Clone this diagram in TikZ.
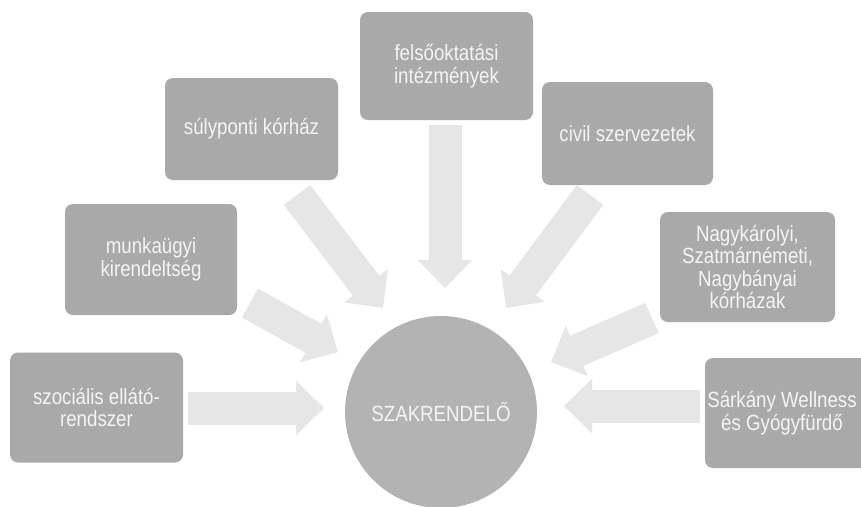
\documentclass[tikz,border=0pt]{standalone}
\usepackage{fontspec}
\setmainfont{Liberation Sans}[FakeStretch=0.85]
\usetikzlibrary{arrows.meta}
\definecolor{boxgray}{HTML}{A9A9A9}
\definecolor{circgray}{HTML}{B3B3B3}
\definecolor{arrgray}{HTML}{E6E6E6}
\definecolor{txtwhite}{HTML}{F4F4F4}
\tikzset{
  grbox/.style={fill=boxgray, rounded corners=8pt, inner sep=0pt, align=center,
    text=txtwhite, font=\fontsize{22}{22.5}\selectfont},
  hubnode/.style={circle, fill=circgray, inner sep=0pt, minimum size=192pt,
    text=txtwhite, font=\fontsize{22}{22.5}\selectfont},
  blockarrow/.style={draw=arrgray, line width=33pt,
    -{Triangle[length=28pt,width=53pt]}, color=arrgray}
}
\begin{document}
\begin{tikzpicture}[x=1pt,y=-1pt]
\useasboundingbox (0,0) rectangle (861,506);
\fill[white] (0,0) rectangle (861,506);
% boxes
\node[grbox, minimum width=173pt, minimum height=110pt] (szoc) at (96.5,407.5) {szociális ellátó-\\rendszer};
\node[grbox, minimum width=172pt, minimum height=111pt] (munk) at (151,259.5) {munkaügyi\\kirendeltség};
\node[grbox, minimum width=173pt, minimum height=102pt] (suly) at (251.5,129) {súlyponti kórház};
\node[grbox, minimum width=173pt, minimum height=108pt] (fels) at (446.5,66) {felsőoktatási\\intézmények};
\node[grbox, minimum width=171pt, minimum height=103pt] (civil) at (627.5,133.5) {civil szervezetek};
\node[grbox, minimum width=175pt, minimum height=110pt] (nagy) at (747.5,267) {Nagykárolyi,\\Szatmárnémeti,\\Nagybányai\\kórházak};
\node[grbox, minimum width=168pt, minimum height=110pt] (sark) at (789,413) {};
\node[text=txtwhite, font=\fontsize{22}{22.5}\selectfont, align=center, inner sep=0pt] (sarktxt) at (782,413) {Sárkány Wellness\\és Gyógyfürdő};
% hub
\node[hubnode] (hub) at (441,412) {SZAKRENDELŐ};
% arrow end points
\coordinate (s1) at (188,408);  \coordinate (t1) at (324,408);
\coordinate (s2) at (250,303);  \coordinate (t2) at (338,352);
\coordinate (s3) at (297,195);  \coordinate (t3) at (383,308);
\coordinate (s4) at (445,125);  \coordinate (t4) at (445,288);
\coordinate (s5) at (590,195);  \coordinate (t5) at (506,308);
\coordinate (s6) at (652,318);  \coordinate (t6) at (551,362);
\coordinate (s7) at (700,406);  \coordinate (t7) at (564,406);
\draw[blockarrow] (s1) -- (t1);
\draw[blockarrow] (s2) -- (t2);
\draw[blockarrow] (s3) -- (t3);
\draw[blockarrow] (s4) -- (t4);
\draw[blockarrow] (s5) -- (t5);
\draw[blockarrow] (s6) -- (t6);
\draw[blockarrow] (s7) -- (t7);
\end{tikzpicture}
\end{document}
